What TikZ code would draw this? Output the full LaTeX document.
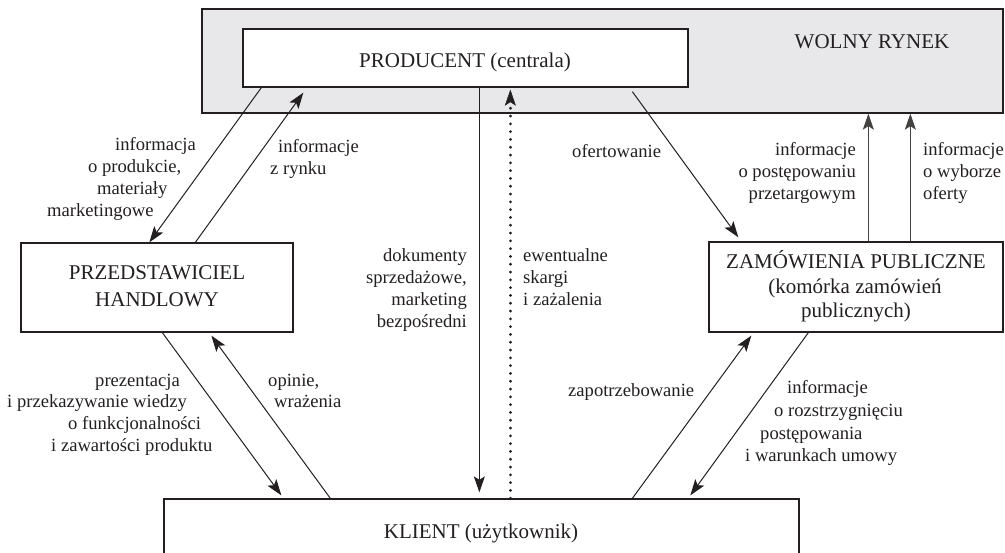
\documentclass[tikz,border=0pt]{standalone}
\usepackage{fontspec}
\setmainfont{Liberation Serif}
\usetikzlibrary{arrows.meta,calc}
\definecolor{ink}{HTML}{231F20}
\definecolor{market}{HTML}{E8E8EA}
\begin{document}
\begin{tikzpicture}[x=1pt,y=-1pt,
  box/.style={draw=ink, line width=1.3pt, fill=white, inner sep=0pt, rectangle},
  lab/.style={inner sep=0pt, text=ink, font=\fontsize{18.6}{22}\selectfont},
  big/.style={inner sep=0pt, text=ink, font=\fontsize{21}{25}\selectfont},
  tip/.style={-{Stealth[length=16pt,width=11pt,inset=3.5pt]}},
  conn/.style={draw=ink, line width=1pt, tip},
  thick conn/.style={draw=ink!85, line width=1.5pt, tip},
  dotconn/.style={draw=ink, line width=2.8pt, line cap=round, dash pattern=on 0.2pt off 7.6pt,
    -{Stealth[length=16pt,width=11pt,inset=3.5pt,line width=0.5pt]}}
]
\useasboundingbox (0,0) rectangle (1005,553);
\begin{scope}
\clip (0,0) rectangle (1005,553);
% boxes
\node[box, fill=market, minimum width=801pt, minimum height=104pt] (rynek) at (602.5,61) {};
\node[box, minimum width=445pt, minimum height=58pt] (prod) at (465.5,58) {};
\node[box, minimum width=272pt, minimum height=89pt] (przed) at (157,287.5) {};
\node[box, minimum width=294pt, minimum height=90pt] (zam) at (856,287) {};
\node[box, minimum width=635pt, minimum height=70pt] (klient) at (481.5,534) {};
\end{scope}
% box texts
\node[big, anchor=base] (rynekt) at (872,49) {WOLNY RYNEK};
\node[big, anchor=base] (prodt) at (465,68) {PRODUCENT (centrala)};
\node[big, anchor=base] (przed1) at (157,280) {PRZEDSTAWICIEL};
\node[big, anchor=base] (przed2) at (157,307) {HANDLOWY};
\node[big, anchor=base] (zam1) at (856,269) {ZAMÓWIENIA PUBLICZNE};
\node[big, anchor=base] (zam2) at (855,294) {(komórka zamówień};
\node[big, anchor=base] (zam3) at (856,318) {publicznych)};
\node[big, anchor=base] (klientt) at (481,538) {KLIENT (użytkownik)};
% connectors
\draw[conn] ($(prod.south west)+(19,0)$) -- ($(przed.north west)+(129,0)$);
\draw[conn] ($(przed.north west)+(175,0)$) -- ($(prod.south west)+(61,5)$);
\draw[conn] ($(prod.south west)+(237,0)$) -- ($(klient.north west)+(316,-6)$);
\draw[dotconn] ($(klient.north west)+(347,0)$) -- ($(prod.south west)+(268,2)$);
\draw[conn] ($(prod.south west)+(390,4)$) -- ($(zam.north west)+(30,-4)$);
\coordinate (u1) at ($(zam.north west)+(160,0)$);
\coordinate (u2) at ($(zam.north west)+(202,0)$);
\draw[thick conn] (u1) -- (u1 |- rynek.south);
\draw[thick conn] (u2) -- (u2 |- rynek.south);
\draw[conn] ($(przed.south west)+(142,0)$) -- ($(klient.north west)+(118,-3)$);
\draw[conn] ($(klient.north west)+(167,0)$) -- ($(przed.south west)+(191,3)$);
\draw[conn] ($(klient.north west)+(469,0)$) -- ($(zam.south west)+(43,3)$);
\draw[conn] ($(zam.south west)+(100,0)$) -- ($(klient.north west)+(527,-3)$);
% labels
\node[lab, anchor=base west] (a1) at (115,151) {informacja};
\node[lab, anchor=base west] (a2) at (88,173) {o produkcie,};
\node[lab, anchor=base west] (a3) at (97,195) {materiały};
\node[lab, anchor=base west] (a4) at (47,217) {marketingowe};
\node[lab, anchor=base west] (b1) at (278,153) {informacje};
\node[lab, anchor=base west] (b2) at (270,175) {z rynku};
\node[lab, anchor=base west] (c1) at (572,158) {ofertowanie};
\node[lab, anchor=base east] (d1) at (856,156) {informacje};
\node[lab, anchor=base east] (d2) at (856,178) {o postępowaniu};
\node[lab, anchor=base east] (d3) at (856,200) {przetargowym};
\node[lab, anchor=base west] (e1) at (923,156) {informacje};
\node[lab, anchor=base west] (e2) at (923,178) {o wyborze};
\node[lab, anchor=base west] (e3) at (923,200) {oferty};
\node[lab, anchor=base east] (f1) at (467,262) {dokumenty};
\node[lab, anchor=base east] (f2) at (467,284) {sprzedażowe,};
\node[lab, anchor=base east] (f3) at (467,306) {marketing};
\node[lab, anchor=base east] (f4) at (467,328) {bezpośredni};
\node[lab, anchor=base west] (g1) at (523,262) {ewentualne};
\node[lab, anchor=base west] (g2) at (523,284) {skargi};
\node[lab, anchor=base west] (g3) at (523,306) {i zażalenia};
\node[lab, anchor=base west] (h1) at (95,387) {prezentacja};
\node[lab, anchor=base west] (h2) at (7,408) {i przekazywanie wiedzy};
\node[lab, anchor=base west] (h3) at (68,430) {o funkcjonalności};
\node[lab, anchor=base west] (h4) at (51,452) {i zawartości produktu};
\node[lab, anchor=base west] (i1) at (268,387) {opinie,};
\node[lab, anchor=base west] (i2) at (274,408) {wrażenia};
\node[lab, anchor=base west] (j1) at (568,397) {zapotrzebowanie};
\node[lab, anchor=base west] (k1) at (787,394) {informacje};
\node[lab, anchor=base west] (k2) at (774,417) {o rozstrzygnięciu};
\node[lab, anchor=base west] (k3) at (760,439) {postępowania};
\node[lab, anchor=base west] (k4) at (745,461) {i warunkach umowy};
\end{tikzpicture}
\end{document}
